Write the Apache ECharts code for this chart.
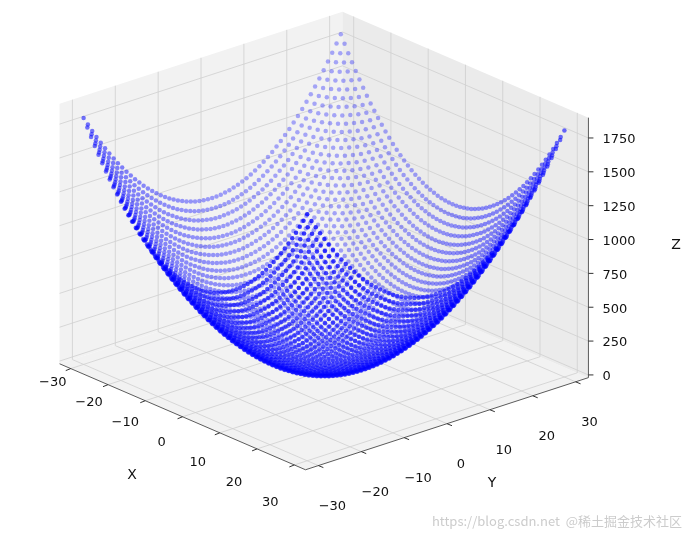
<!DOCTYPE html>
<html><head><meta charset="utf-8">
<script src="https://cdn.jsdelivr.net/npm/echarts@6/dist/echarts.min.js"></script>
<style>html,body{margin:0;background:#fff}#main{width:694px;height:538px}</style>
</head><body><div id="main"></div>
<script>
// grid values and ticks
const xValues = [];
for (let v = -30; v <= 30; v++) xValues.push(v);
const yValues = xValues.slice();
const xTicks = [-30, -20, -10, 0, 10, 20, 30];
const yTicks = [-30, -20, -10, 0, 10, 20, 30];
const zTicks = [0, 250, 500, 750, 1000, 1250, 1500, 1750];

// view (roughly matplotlib's default-ish camera)
const az = -41 * Math.PI / 180, el = 22 * Math.PI / 180;
const S = 5.68, SZ = 0.1354, cx = 324, cy = 368;
const zMin = -20, zMax = 1900, lo = -33, hi = 33;

function proj(x, y, z) {
	const px = cx + S * (-Math.sin(az) * x + Math.cos(az) * y);
	const up = S * (-Math.sin(el) * Math.cos(az) * x - Math.sin(el) * Math.sin(az) * y);
	return [px, cy - up - z * SZ];
}
function depth(x, y, z) {
	return Math.cos(el) * Math.cos(az) * x / 60 + Math.cos(el) * Math.sin(az) * y / 60 + Math.sin(el) * (z - 900) / 1900;
}

// surface points z = x^2 + y^2
const pts = [];
xValues.forEach(function (x) {
	yValues.forEach(function (y) {
		const z = x * x + y * y;
		pts.push({ x: x, y: y, z: z, d: depth(x, y, z) });
	});
});
pts.sort(function (a, b) { return a.d - b.d; });
let dmin = pts[0].d, dmax = pts[pts.length - 1].d;
const scatterData = pts.map(function (p) {
	const t = (p.d - dmin) / (dmax - dmin);
	const a = 0.4 + 0.6 * t;
	return { value: proj(p.x, p.y, p.z), itemStyle: { color: 'rgba(0,0,255,' + a.toFixed(2) + ')' } };
});

function boxRender(params, api) {
	const c = function (x, y, z) { return api.coord(proj(x, y, z)); };
	const ch = [];
	const poly = function (ps, fill) {
		ch.push({ type: 'polygon', shape: { points: ps }, style: { fill: fill, stroke: 'none' } });
	};
	const line = function (a, b, color, w) {
		ch.push({ type: 'line', shape: { x1: a[0], y1: a[1], x2: b[0], y2: b[1] }, style: { stroke: color, lineWidth: w } });
	};
	const text = function (p, s, size, align) {
		ch.push({ type: 'text', x: p[0], y: p[1], style: { text: s, fill: '#111', font: size + 'px "DejaVu Sans"', align: align || 'center', verticalAlign: 'middle' } });
	};
	// panes: floor, x=lo wall, y=hi wall
	poly([c(lo, lo, zMin), c(hi, lo, zMin), c(hi, hi, zMin), c(lo, hi, zMin)], '#f2f2f2');
	poly([c(lo, lo, zMin), c(lo, hi, zMin), c(lo, hi, zMax), c(lo, lo, zMax)], '#f2f2f2');
	poly([c(lo, hi, zMin), c(hi, hi, zMin), c(hi, hi, zMax), c(lo, hi, zMax)], '#ebebeb');
	const gc = '#cfcfcf';
	xTicks.forEach(function (x) {
		line(c(x, lo, zMin), c(x, hi, zMin), gc, 0.8);
		line(c(x, hi, zMin), c(x, hi, zMax), gc, 0.8);
	});
	yTicks.forEach(function (y) {
		line(c(lo, y, zMin), c(hi, y, zMin), gc, 0.8);
		line(c(lo, y, zMin), c(lo, y, zMax), gc, 0.8);
	});
	zTicks.forEach(function (z) {
		line(c(lo, lo, z), c(lo, hi, z), gc, 0.8);
		line(c(lo, hi, z), c(hi, hi, z), gc, 0.8);
	});
	// axis lines
	line(c(lo, lo, zMin), c(hi, lo, zMin), '#333', 0.8);
	line(c(hi, lo, zMin), c(hi, hi, zMin), '#333', 0.8);
	line(c(hi, hi, zMin), c(hi, hi, zMax), '#333', 0.8);
	xTicks.forEach(function (x) {
		const p = c(x, lo, zMin);
		line(p, [p[0] - 5, p[1] + 2], '#333', 1);
		text([p[0] - 18 - (x + 30) * 0.1, p[1] + 26 + x * 0.4], String(x).replace('-', '−'), 13);
	});
	yTicks.forEach(function (y) {
		const p = c(hi, y, zMin);
		line(p, [p[0] + 5, p[1] + 2], '#333', 1);
		text([p[0] + 14, p[1] + 41], String(y).replace('-', '−'), 13);
	});
	zTicks.forEach(function (z) {
		const p = c(hi, hi, z);
		line(p, [p[0] + 5, p[1]], '#333', 1);
		text([p[0] + 14, p[1] + 2], String(z), 13, 'left');
	});
	text([132, 475], 'X', 14);
	text([492, 483], 'Y', 14);
	text([676, 245], 'Z', 14);
	return { type: 'group', children: ch };
}

const myChart = echarts.init(document.getElementById('main'));
myChart.setOption({
	animation: false,
	grid: { left: 0, right: 0, top: 0, bottom: 0 },
	xAxis: { type: 'value', min: 0, max: 694, show: false },
	yAxis: { type: 'value', min: 0, max: 538, inverse: true, show: false },
	series: [
		{ type: 'custom', renderItem: boxRender, data: [[0, 0]], z: 1, silent: true },
		{ type: 'scatter', symbolSize: 4.5, data: scatterData, z: 2, silent: true, large: false }
	],
	graphic: [{ type: 'text', right: 12, bottom: 10, style: { text: 'https://blog.csdn.net  @稀土掘金技术社区', fill: '#ccc', font: '13px "Noto Sans CJK SC"' } }]
});
</script></body></html>
